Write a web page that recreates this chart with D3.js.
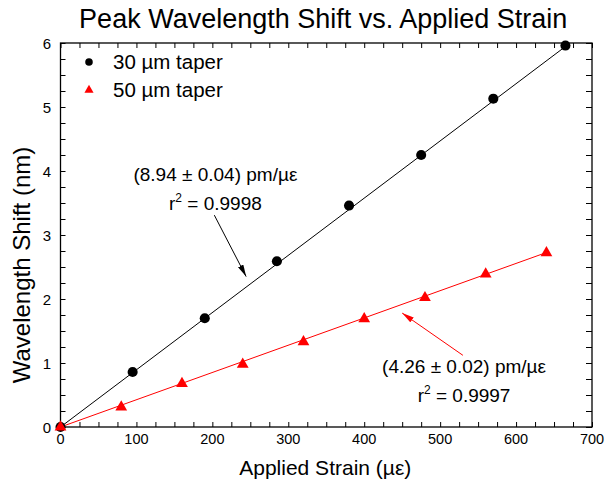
<!DOCTYPE html>
<meta charset="utf-8">
<style>
body { margin: 0; background: #fff; }
text { font-family: "Liberation Sans", Arial, sans-serif; fill: #000; }
</style>
<svg class="chart" width="605" height="487"></svg>
<script src="https://d3js.org/d3.v7.min.js"></script>
<script>

// data
var strain30 = [0, 95, 190, 285, 380, 475, 570, 665];
var shift30  = [0, 0.86, 1.70, 2.59, 3.46, 4.25, 5.13, 5.96];
var strain50 = [0, 80, 160, 240, 320, 400, 480, 560, 640];
var shift50  = [0, 0.31, 0.68, 0.98, 1.33, 1.69, 2.02, 2.39, 2.72];
var slopes   = [8.94, 4.26];        // pm/µε, from the fit labels
var seriesNames = ["30 µm taper", "50 µm taper"];
var xTicks = [0, 100, 200, 300, 400, 500, 600, 700];
var yTicks = [0, 1, 2, 3, 4, 5, 6];

var svg = d3.select(".chart");

// plot frame (note: "top" is reserved on window, so use pX names)
var pLeft = 60.5, pRight = 592, pTop = 43, pBottom = 427;

var x = d3.scaleLinear().domain([0, 700]).range([pLeft, pRight]);
var y = d3.scaleLinear().domain([0, 6]).range([pBottom, pTop]);

// title
svg.append("text")
    .attr("x", (pLeft + pRight) / 2 - 3)
    .attr("y", 28)
    .attr("text-anchor", "middle")
    .style("font-size", "27px")
    .text("Peak Wavelength Shift vs. Applied Strain");

// axes: frame with inward ticks
function minor(step, max) { return d3.range(0, max + 1e-9, step); }

var xMinor = minor(25, 700), yMinor = minor(0.25, 6);

svg.append("g")
    .attr("transform", "translate(0," + pBottom + ")")
    .call(d3.axisBottom(x).tickValues(xMinor).tickSize(-5).tickFormat(""))
    .call(function(g) { g.select(".domain").remove(); });
svg.append("g")
    .attr("transform", "translate(0," + pTop + ")")
    .call(d3.axisTop(x).tickValues(xMinor).tickSize(-5).tickFormat(""))
    .call(function(g) { g.select(".domain").remove(); });
svg.append("g")
    .attr("transform", "translate(" + pLeft + ",0)")
    .call(d3.axisLeft(y).tickValues(yMinor).tickSize(-5).tickFormat(""))
    .call(function(g) { g.select(".domain").remove(); });
svg.append("g")
    .attr("transform", "translate(" + pRight + ",0)")
    .call(d3.axisRight(y).tickValues(yMinor).tickSize(-6).tickFormat(""))
    .call(function(g) { g.select(".domain").remove(); });

svg.selectAll(".tick line").attr("stroke", "#000").attr("stroke-width", 1);

svg.append("rect")
    .attr("x", pLeft).attr("y", pTop)
    .attr("width", pRight - pLeft).attr("height", pBottom - pTop)
    .attr("fill", "none").attr("stroke", "#000").attr("stroke-width", 1.3);

// tick labels
svg.append("g").selectAll("text")
    .data(xTicks).enter().append("text")
    .attr("x", function(d) { return x(d); })
    .attr("y", 444)
    .attr("text-anchor", "middle")
    .style("font-size", "14.5px")
    .text(function(d) { return d; });

svg.append("g").selectAll("text")
    .data(yTicks).enter().append("text")
    .attr("x", 51)
    .attr("y", function(d) { return y(d) + 5.5; })
    .attr("text-anchor", "end")
    .style("font-size", "15px")
    .text(function(d) { return d; });

// axis titles
svg.append("text")
    .attr("x", (pLeft + pRight) / 2 - 1)
    .attr("y", 475)
    .attr("text-anchor", "middle")
    .style("font-size", "21px")
    .text("Applied Strain (µε)");

svg.append("text")
    .attr("transform", "translate(30,265) rotate(-90)")
    .attr("text-anchor", "middle")
    .style("font-size", "24px")
    .text("Wavelength Shift (nm)");

// fit lines
var colors = ["#000", "#ff0000"];
var strains = [strain30, strain50];
var shifts = [shift30, shift50];

slopes.forEach(function(s, i) {
  var xEnd = d3.max(strains[i]);
  svg.append("line")
      .attr("x1", x(0)).attr("y1", y(0))
      .attr("x2", x(xEnd)).attr("y2", y(s / 1000 * xEnd))
      .attr("stroke", colors[i]).attr("stroke-width", 1);
});

// markers
var circle = d3.symbol().type(d3.symbolCircle).size(80);
var tri = d3.symbol().type(d3.symbolTriangle).size(60);

svg.append("g").selectAll("path")
    .data(d3.zip(strain30, shift30)).enter().append("path")
    .attr("d", circle)
    .attr("fill", "#000")
    .attr("transform", function(d) { return "translate(" + x(d[0]) + "," + y(d[1]) + ")"; });

svg.append("g").selectAll("path")
    .data(d3.zip(strain50, shift50)).enter().append("path")
    .attr("d", tri)
    .attr("fill", "#ff0000")
    .attr("transform", function(d) { return "translate(" + x(d[0]) + "," + y(d[1]) + ")"; });

// legend
var legend = svg.append("g");
[d3.symbol().type(d3.symbolCircle).size(45), d3.symbol().type(d3.symbolTriangle).size(36)].forEach(function(sym, i) {
  legend.append("path")
      .attr("d", sym)
      .attr("fill", colors[i])
      .attr("transform", "translate(89," + (62 + i * 28) + ")");
  legend.append("text")
      .attr("x", 113)
      .attr("y", 69 + i * 28)
      .style("font-size", "20.5px")
      .text(seriesNames[i]);
});

// annotations
var defs = svg.append("defs");
colors.forEach(function(c, i) {
  defs.append("marker")
      .attr("id", "arrow" + i)
      .attr("viewBox", "0 0 12 6")
      .attr("refX", 12).attr("refY", 3)
      .attr("markerWidth", 12).attr("markerHeight", 6)
      .attr("markerUnits", "userSpaceOnUse")
      .attr("orient", "auto")
    .append("path")
      .attr("d", "M0,0 L12,3 L0,6 Z")
      .attr("fill", c);
});

var notes = [
  {slope: "(8.94 ± 0.04) pm/µε", r2: "0.9998", at: [204, 3.85], from: [202.6, 3.31], to: [244.5, 2.35]},
  {slope: "(4.26 ± 0.02) pm/µε", r2: "0.9997", at: [531.5, 0.84], from: [530, 1.12], to: [450, 1.78]}
];

notes.forEach(function(n, i) {
  var cx = x(n.at[0]), cy = y(n.at[1]);
  svg.append("text")
      .attr("x", cx).attr("y", cy)
      .attr("text-anchor", "middle")
      .style("font-size", "19px")
      .text(n.slope);
  var t = svg.append("text")
      .attr("x", cx).attr("y", cy + 29)
      .attr("text-anchor", "middle")
      .style("font-size", "19px");
  t.append("tspan").text("r");
  t.append("tspan").attr("dy", -8).style("font-size", "12px").text("2");
  t.append("tspan").attr("dy", 8).text(" = " + n.r2);

  svg.append("line")
      .attr("x1", x(n.from[0])).attr("y1", y(n.from[1]))
      .attr("x2", x(n.to[0])).attr("y2", y(n.to[1]))
      .attr("stroke", colors[i]).attr("stroke-width", 1)
      .attr("marker-end", "url(#arrow" + i + ")");
});

</script>
